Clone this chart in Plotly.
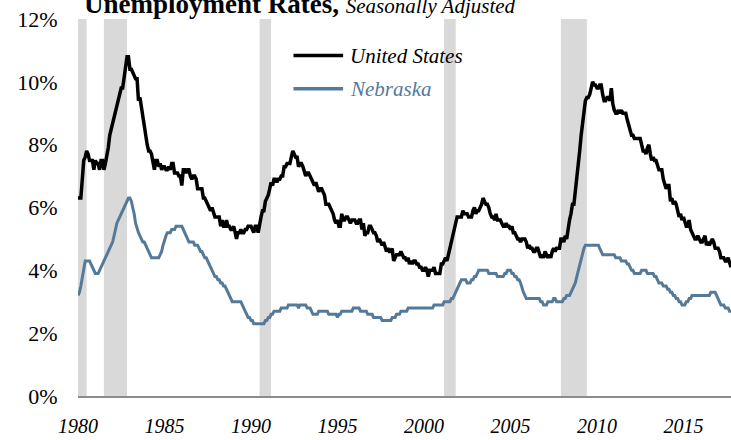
import pandas as pd
import plotly.graph_objects as go

# US unemployment rate, monthly, Jan 1980 - Oct 2017 (%)
us_rate = [
    6.3, 6.3, 6.3, 6.9, 7.5, 7.6, 7.8, 7.7, 7.5, 7.5, 7.5, 7.2,   # 1980
    7.5, 7.4, 7.4, 7.2, 7.5, 7.5, 7.2, 7.4, 7.6, 7.9, 8.3, 8.5,   # 1981
    8.6, 8.9, 9.0, 9.3, 9.4, 9.6, 9.8, 9.8, 10.1, 10.4, 10.8, 10.8,  # 1982
    10.4, 10.4, 10.3, 10.2, 10.1, 10.1, 9.4, 9.5, 9.2, 8.8, 8.5, 8.3,  # 1983
    8.0, 7.8, 7.8, 7.7, 7.4, 7.2, 7.5, 7.5, 7.3, 7.4, 7.2, 7.3,   # 1984
    7.3, 7.2, 7.2, 7.3, 7.2, 7.4, 7.4, 7.1, 7.1, 7.1, 7.0, 7.0,   # 1985
    6.7, 7.2, 7.2, 7.1, 7.2, 7.2, 7.0, 6.9, 7.0, 7.0, 6.9, 6.6,   # 1986
    6.6, 6.6, 6.6, 6.3, 6.3, 6.2, 6.1, 6.0, 5.9, 6.0, 5.8, 5.7,   # 1987
    5.7, 5.7, 5.7, 5.4, 5.6, 5.4, 5.4, 5.6, 5.4, 5.4, 5.3, 5.3,   # 1988
    5.4, 5.2, 5.0, 5.2, 5.2, 5.3, 5.2, 5.2, 5.3, 5.3, 5.4, 5.4,   # 1989
    5.4, 5.3, 5.2, 5.4, 5.4, 5.2, 5.5, 5.7, 5.9, 5.9, 6.2, 6.3,   # 1990
    6.4, 6.6, 6.8, 6.7, 6.9, 6.9, 6.8, 6.9, 6.9, 7.0, 7.0, 7.3,   # 1991
    7.3, 7.4, 7.4, 7.4, 7.6, 7.8, 7.7, 7.6, 7.6, 7.3, 7.4, 7.4,   # 1992
    7.3, 7.1, 7.0, 7.1, 7.1, 7.0, 6.9, 6.8, 6.7, 6.8, 6.6, 6.5,   # 1993
    6.6, 6.6, 6.5, 6.4, 6.1, 6.1, 6.1, 6.0, 5.9, 5.8, 5.6, 5.5,   # 1994
    5.6, 5.4, 5.4, 5.8, 5.6, 5.6, 5.7, 5.7, 5.6, 5.5, 5.6, 5.6,   # 1995
    5.6, 5.5, 5.5, 5.6, 5.6, 5.3, 5.5, 5.1, 5.2, 5.2, 5.4, 5.4,   # 1996
    5.3, 5.2, 5.2, 5.1, 4.9, 5.0, 4.9, 4.8, 4.9, 4.7, 4.6, 4.7,   # 1997
    4.6, 4.6, 4.7, 4.3, 4.4, 4.5, 4.5, 4.5, 4.6, 4.5, 4.4, 4.4,   # 1998
    4.3, 4.4, 4.2, 4.3, 4.2, 4.3, 4.3, 4.2, 4.2, 4.1, 4.1, 4.0,   # 1999
    4.0, 4.1, 4.0, 3.8, 4.0, 4.0, 4.0, 4.1, 3.9, 3.9, 3.9, 3.9,   # 2000
    4.2, 4.2, 4.3, 4.4, 4.3, 4.5, 4.6, 4.9, 5.0, 5.3, 5.5, 5.7,   # 2001
    5.7, 5.7, 5.7, 5.9, 5.8, 5.8, 5.8, 5.7, 5.7, 5.7, 5.9, 6.0,   # 2002
    5.8, 5.9, 5.9, 6.0, 6.1, 6.3, 6.2, 6.1, 6.1, 6.0, 5.8, 5.7,   # 2003
    5.7, 5.6, 5.8, 5.6, 5.6, 5.6, 5.5, 5.4, 5.4, 5.5, 5.4, 5.4,   # 2004
    5.3, 5.4, 5.2, 5.2, 5.1, 5.0, 5.0, 4.9, 5.0, 5.0, 5.0, 4.9,   # 2005
    4.7, 4.8, 4.7, 4.7, 4.6, 4.6, 4.7, 4.7, 4.5, 4.4, 4.5, 4.4,   # 2006
    4.6, 4.5, 4.4, 4.5, 4.4, 4.6, 4.7, 4.6, 4.7, 4.7, 4.7, 5.0,   # 2007
    5.0, 4.9, 5.1, 5.0, 5.4, 5.6, 5.8, 6.1, 6.1, 6.5, 6.8, 7.3,   # 2008
    7.8, 8.3, 8.7, 9.0, 9.4, 9.5, 9.5, 9.6, 9.8, 10.0, 9.9, 9.9,  # 2009
    9.8, 9.8, 9.9, 9.9, 9.6, 9.4, 9.4, 9.5, 9.5, 9.4, 9.8, 9.3,   # 2010
    9.1, 9.0, 9.0, 9.1, 9.0, 9.1, 9.0, 9.0, 9.0, 8.8, 8.6, 8.5,   # 2011
    8.3, 8.3, 8.2, 8.2, 8.2, 8.2, 8.2, 8.0, 7.8, 7.8, 7.7, 7.9,   # 2012
    8.0, 7.7, 7.5, 7.6, 7.5, 7.5, 7.3, 7.2, 7.2, 7.2, 6.9, 6.7,   # 2013
    6.6, 6.7, 6.7, 6.2, 6.3, 6.1, 6.2, 6.1, 5.9, 5.7, 5.8, 5.6,   # 2014
    5.7, 5.5, 5.4, 5.4, 5.6, 5.3, 5.2, 5.1, 5.0, 5.0, 5.1, 5.0,   # 2015
    4.9, 4.9, 5.0, 5.1, 4.8, 4.9, 4.8, 4.9, 5.0, 4.9, 4.7, 4.7,   # 2016
    4.7, 4.6, 4.4, 4.4, 4.4, 4.3, 4.3, 4.4, 4.2, 4.1,             # 2017
]

# Nebraska unemployment rate, monthly, Jan 1980 - Oct 2017 (%)
ne_rate = [
    3.2, 3.3, 3.5, 3.8, 4.1, 4.3, 4.3, 4.3, 4.3, 4.2, 4.1, 4.0,   # 1980
    3.9, 3.9, 3.9, 4.0, 4.1, 4.2, 4.3, 4.4, 4.5, 4.6, 4.7, 4.8,   # 1981
    4.9, 5.1, 5.3, 5.5, 5.6, 5.7, 5.8, 5.9, 6.0, 6.1, 6.2, 6.3,   # 1982
    6.3, 6.2, 6.0, 5.8, 5.5, 5.3, 5.2, 5.1, 5.0, 4.9, 4.9, 4.8,   # 1983
    4.7, 4.6, 4.5, 4.4, 4.4, 4.4, 4.4, 4.4, 4.4, 4.5, 4.6, 4.8,   # 1984
    5.0, 5.1, 5.2, 5.2, 5.2, 5.3, 5.3, 5.3, 5.4, 5.4, 5.4, 5.4,   # 1985
    5.4, 5.3, 5.2, 5.1, 5.0, 4.9, 4.9, 4.9, 4.9, 4.8, 4.8, 4.8,   # 1986
    4.7, 4.6, 4.6, 4.5, 4.4, 4.4, 4.3, 4.2, 4.1, 4.0, 3.9, 3.8,   # 1987
    3.8, 3.7, 3.7, 3.6, 3.6, 3.5, 3.5, 3.4, 3.3, 3.2, 3.1, 3.0,   # 1988
    3.0, 3.0, 3.0, 3.0, 3.0, 3.0, 2.9, 2.8, 2.7, 2.6, 2.5, 2.5,   # 1989
    2.4, 2.4, 2.3, 2.3, 2.3, 2.3, 2.3, 2.3, 2.3, 2.3, 2.4, 2.4,   # 1990
    2.5, 2.5, 2.6, 2.6, 2.7, 2.7, 2.7, 2.7, 2.7, 2.8, 2.8, 2.8,   # 1991
    2.8, 2.8, 2.9, 2.9, 2.9, 2.9, 2.9, 2.9, 2.9, 2.8, 2.9, 2.9,   # 1992
    2.9, 2.9, 2.9, 2.8, 2.8, 2.8, 2.7, 2.6, 2.6, 2.6, 2.6, 2.7,   # 1993
    2.7, 2.7, 2.7, 2.7, 2.7, 2.7, 2.6, 2.6, 2.6, 2.6, 2.6, 2.6,   # 1994
    2.5, 2.6, 2.6, 2.7, 2.7, 2.7, 2.7, 2.7, 2.7, 2.7, 2.7, 2.8,   # 1995
    2.8, 2.8, 2.8, 2.8, 2.7, 2.7, 2.7, 2.7, 2.7, 2.6, 2.6, 2.6,   # 1996
    2.6, 2.5, 2.5, 2.5, 2.5, 2.5, 2.5, 2.4, 2.4, 2.4, 2.4, 2.4,   # 1997
    2.4, 2.4, 2.5, 2.5, 2.5, 2.6, 2.6, 2.6, 2.7, 2.7, 2.7, 2.7,   # 1998
    2.7, 2.8, 2.8, 2.8, 2.8, 2.8, 2.8, 2.8, 2.8, 2.8, 2.8, 2.8,   # 1999
    2.8, 2.8, 2.8, 2.8, 2.8, 2.8, 2.8, 2.9, 2.9, 2.9, 2.9, 2.9,   # 2000
    2.9, 2.9, 3.0, 3.0, 3.0, 3.0, 3.0, 3.1, 3.1, 3.2, 3.3, 3.4,   # 2001
    3.5, 3.6, 3.7, 3.7, 3.7, 3.7, 3.6, 3.6, 3.6, 3.7, 3.7, 3.8,   # 2002
    3.8, 3.9, 4.0, 4.0, 4.0, 4.0, 4.0, 4.0, 4.0, 3.9, 3.9, 3.9,   # 2003
    3.9, 3.9, 3.9, 3.8, 3.8, 3.8, 3.8, 3.8, 3.9, 3.9, 4.0, 4.0,   # 2004
    4.0, 3.9, 3.9, 3.8, 3.8, 3.7, 3.7, 3.6, 3.4, 3.3, 3.2, 3.1,   # 2005
    3.1, 3.1, 3.1, 3.1, 3.1, 3.1, 3.1, 3.1, 3.1, 3.0, 3.0, 2.9,   # 2006
    2.9, 2.9, 3.0, 3.0, 3.0, 3.0, 3.1, 3.1, 3.0, 3.0, 3.0, 3.0,   # 2007
    3.0, 3.1, 3.1, 3.2, 3.2, 3.2, 3.3, 3.4, 3.5, 3.6, 3.8, 4.0,   # 2008
    4.2, 4.4, 4.6, 4.7, 4.8, 4.8, 4.8, 4.8, 4.8, 4.8, 4.8, 4.8,   # 2009
    4.8, 4.8, 4.7, 4.6, 4.5, 4.5, 4.5, 4.5, 4.5, 4.5, 4.5, 4.5,   # 2010
    4.5, 4.4, 4.4, 4.4, 4.4, 4.3, 4.3, 4.3, 4.3, 4.2, 4.2, 4.1,   # 2011
    4.0, 4.0, 3.9, 3.9, 3.9, 3.9, 3.9, 4.0, 4.0, 4.0, 4.0, 3.9,   # 2012
    3.9, 3.9, 3.9, 3.9, 3.8, 3.8, 3.7, 3.6, 3.6, 3.6, 3.5, 3.5,   # 2013
    3.5, 3.4, 3.4, 3.3, 3.3, 3.2, 3.2, 3.1, 3.1, 3.0, 3.0, 2.9,   # 2014
    2.9, 2.9, 3.0, 3.0, 3.1, 3.1, 3.2, 3.2, 3.2, 3.2, 3.2, 3.2,   # 2015
    3.2, 3.2, 3.2, 3.2, 3.2, 3.2, 3.2, 3.3, 3.3, 3.3, 3.3, 3.2,   # 2016
    3.1, 3.0, 2.9, 2.9, 2.9, 2.8, 2.8, 2.8, 2.7, 2.7,             # 2017
]

start_month = "1980-01-01"
recession_starts = ["1980-01-01", "1981-07-01", "1990-07-01", "2001-03-01", "2007-12-01"]
recession_ends = ["1980-07-01", "1982-11-01", "1991-03-01", "2001-11-01", "2009-06-01"]
year_ticks = [1980, 1985, 1990, 1995, 2000, 2005, 2010, 2015]
y_ticks = [0, 2, 4, 6, 8, 10, 12]

dates = pd.date_range(start_month, periods=len(us_rate), freq="MS")

US_COLOR = "#000000"
NE_COLOR = "#557a99"
BAR_COLOR = "#d9d9d9"
SERIF = "Liberation Serif"

fig = go.Figure()
fig.add_trace(go.Scatter(x=dates, y=ne_rate, mode="lines", name="Nebraska",
                         line=dict(color=NE_COLOR, width=3), showlegend=False))
fig.add_trace(go.Scatter(x=dates, y=us_rate, mode="lines", name="United States",
                         line=dict(color=US_COLOR, width=3.5), showlegend=False))

for s, e in zip(recession_starts, recession_ends):
    fig.add_shape(type="rect", xref="x", yref="y", x0=s, x1=e, y0=0, y1=12,
                  fillcolor=BAR_COLOR, line=dict(width=0), layer="below")

# manual legend
legend_items = [("United States", US_COLOR, 0.903), ("Nebraska", NE_COLOR, 0.815)]
for label, color, yy in legend_items:
    fig.add_shape(type="line", xref="paper", yref="paper", x0=0.330, x1=0.406,
                  y0=yy, y1=yy, line=dict(color=color, width=3.5))
    fig.add_annotation(xref="paper", yref="paper", x=0.413, y=yy, xanchor="left",
                       yanchor="middle", showarrow=False, text=f"<i>{label}</i>",
                       font=dict(family=SERIF, size=21, color=color))

fig.add_annotation(
    xref="paper", yref="paper", x=0.006, y=1.040, xanchor="left", yanchor="middle",
    showarrow=False,
    text=("<b>Unemployment Rates,</b> "
          "<i><span style='font-family:Liberation Serif;font-size:21px'>Seasonally Adjusted</span></i>"),
    font=dict(family=SERIF, size=27, color="#000000"),
)

fig.update_layout(
    width=731, height=440,
    margin=dict(l=78, r=0, t=19, b=44),
    paper_bgcolor="white", plot_bgcolor="white",
    showlegend=False,
    xaxis=dict(
        type="date",
        range=[start_month, dates[-1]],
        tickvals=[f"{y}-01-01" for y in year_ticks],
        ticktext=[f"<i>{y}</i>" for y in year_ticks],
        tickfont=dict(family=SERIF, size=20, color="#000000", style="italic"),
        ticks="outside", ticklen=11, tickcolor="rgba(0,0,0,0)",
        showgrid=False, zeroline=False,
        showline=True, linecolor="#8c8c8c", linewidth=2,
    ),
    yaxis=dict(
        range=[0, 12],
        tickvals=y_ticks,
        ticktext=[f"{v}%" for v in y_ticks],
        tickfont=dict(family=SERIF, size=22, color="#000000"),
        ticks="outside", ticklen=15, tickcolor="rgba(0,0,0,0)",
        showgrid=False, zeroline=False, showline=False,
    ),
)

fig.write_html(
    "out.html",
    config={"displayModeBar": False},
    post_script="document.body.style.margin='0';document.body.style.padding='0';"
                "document.body.style.overflow='hidden';",
)
